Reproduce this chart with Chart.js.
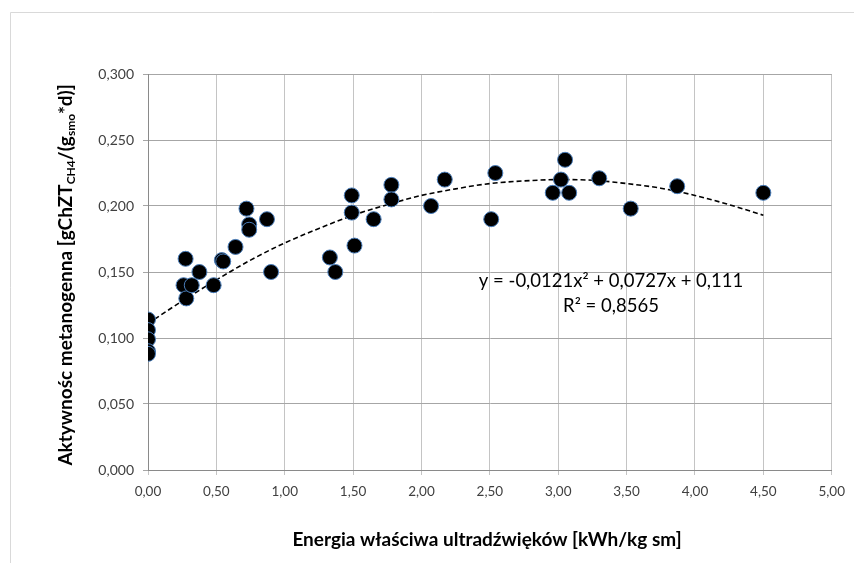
<!DOCTYPE html>
<html>
<head>
<meta charset="utf-8">
<script src="https://cdn.jsdelivr.net/npm/chart.js@4/dist/chart.umd.min.js"></script>
<style>
  html, body { margin: 0; padding: 0; background: #fff; }
  #wrap { width: 854px; height: 563px; position: relative; }
</style>
</head>
<body>
<div id="wrap"><canvas id="chart"></canvas></div>
<script>
// measured points: specific energy [kWh/kg sm] vs methanogenic activity
const energyX = [
  0, 0, 0, 0, 0,
  0.26, 0.28, 0.275, 0.32, 0.376, 0.48, 0.54, 0.55, 0.64, 0.72, 0.74, 0.74, 0.87, 0.90,
  1.33, 1.37, 1.49, 1.49, 1.51, 1.65, 1.78, 1.78, 2.07, 2.17,
  2.51, 2.54, 2.96, 3.02, 3.05, 3.08, 3.30, 3.53, 3.87, 4.50
];
const activityY = [
  0.114, 0.106, 0.099, 0.090, 0.088,
  0.140, 0.130, 0.160, 0.140, 0.150, 0.140, 0.159, 0.158, 0.169, 0.198, 0.186, 0.182, 0.190, 0.150,
  0.161, 0.150, 0.208, 0.195, 0.170, 0.190, 0.216, 0.205, 0.200, 0.220,
  0.190, 0.225, 0.210, 0.220, 0.235, 0.210, 0.221, 0.198, 0.215, 0.210
];

// polynomial trendline
const trendX = [0, 0.25, 0.5, 0.75, 1, 1.25, 1.5, 1.75, 2, 2.25, 2.5, 2.75, 3, 3.25, 3.5, 3.75, 4, 4.25, 4.5];
const trendY = [0.111, 0.128, 0.144, 0.159, 0.172, 0.183, 0.193, 0.201, 0.208, 0.213, 0.217, 0.219, 0.220, 0.2195, 0.217, 0.2135, 0.208, 0.201, 0.193];

const xTicks = [0, 0.5, 1, 1.5, 2, 2.5, 3, 3.5, 4, 4.5, 5];
const yTicks = [0, 0.05, 0.1, 0.15, 0.2, 0.25, 0.3];

const eqLines = ["y = -0,0121x\u00b2 + 0,0727x + 0,111", "R\u00b2 = 0,8565"];
const xTitle = "Energia właściwa ultradźwięków [kWh/kg sm]";
// y title pieces, sub = subscript
const yTitleParts = [
  { t: "Aktywnośc metanogenna [gChZT", sub: false },
  { t: "CH4", sub: true },
  { t: "/(g", sub: false },
  { t: "smo", sub: true },
  { t: "*d)]", sub: false }
];

const FONT = "Lato, 'Open Sans', sans-serif";

const decor = {
  id: "decor",
  beforeDraw(chart) {
    const ctx = chart.ctx;
    ctx.save();
    ctx.fillStyle = "#fff";
    ctx.fillRect(0, 0, chart.width, chart.height);
    ctx.strokeStyle = "#d9d9d9";
    ctx.lineWidth = 1;
    ctx.beginPath();
    ctx.moveTo(10.5, chart.height);
    ctx.lineTo(10.5, 12.5);
    ctx.lineTo(chart.width, 12.5);
    ctx.stroke();
    ctx.restore();
  },
  afterDraw(chart) {
    const ctx = chart.ctx;
    ctx.save();
    ctx.fillStyle = "#000";

    // x axis title
    ctx.font = "bold 19px " + FONT;
    ctx.textAlign = "center";
    ctx.textBaseline = "middle";
    ctx.fillText(xTitle, 487, 540);

    // y axis title with subscripts
    const mainFont = "bold 19px " + FONT;
    const subFont = "bold 12px " + FONT;
    let total = 0;
    yTitleParts.forEach(p => {
      ctx.font = p.sub ? subFont : mainFont;
      p.w = ctx.measureText(p.t).width;
      total += p.w;
    });
    ctx.translate(65, 275);
    ctx.rotate(-Math.PI / 2);
    ctx.textAlign = "left";
    ctx.textBaseline = "alphabetic";
    let cx = -total / 2;
    yTitleParts.forEach(p => {
      ctx.font = p.sub ? subFont : mainFont;
      ctx.fillText(p.t, cx, p.sub ? 10 : 7);
      cx += p.w;
    });
    ctx.setTransform(1, 0, 0, 1, 0, 0);

    // trendline equation
    ctx.font = "18.5px " + FONT;
    ctx.textAlign = "center";
    ctx.textBaseline = "alphabetic";
    ctx.fillText(eqLines[0], 611, 287);
    ctx.fillText(eqLines[1], 611, 312);
    ctx.restore();
  }
};

const fmt = (v, d) => v.toFixed(d).replace(".", ",");

new Chart(document.getElementById("chart"), {
  type: "scatter",
  data: {
    datasets: [
      {
        label: "pomiary",
        data: energyX.map((x, i) => ({ x: x, y: activityY[i] })),
        backgroundColor: "#000",
        borderColor: "#4a7ebb",
        borderWidth: 1,
        pointRadius: 7.5,
        pointHoverRadius: 7.5,
        order: 0
      },
      {
        label: "trend",
        type: "line",
        data: trendX.map((x, i) => ({ x: x, y: trendY[i] })),
        borderColor: "#000",
        borderWidth: 1.6,
        borderDash: [5, 3],
        pointRadius: 0,
        fill: false,
        tension: 0.4,
        cubicInterpolationMode: "monotone",
        order: 1
      }
    ]
  },
  options: {
    responsive: true,
    maintainAspectRatio: false,
    animation: false,
    layout: { padding: { top: 74, right: 14, left: 0, bottom: 0 } },
    plugins: {
      legend: { display: false },
      tooltip: { enabled: false }
    },
    scales: {
      x: {
        type: "linear",
        min: 0,
        max: 5,
        afterBuildTicks: (s) => { s.ticks = xTicks.map(v => ({ value: v })); },
        afterFit: (s) => { s.height = 93; },
        grid: { color: "#c4c4c4", tickLength: 5, drawTicks: true },
        border: { color: "#8a8a8a" },
        ticks: {
          color: "#404040",
          font: { family: FONT, size: 13.5 },
          padding: 9,
          maxRotation: 0,
          callback: (v) => fmt(v, 2)
        }
      },
      y: {
        type: "linear",
        min: 0,
        max: 0.3,
        afterBuildTicks: (s) => { s.ticks = yTicks.map(v => ({ value: v })); },
        afterFit: (s) => { s.width = 148; },
        grid: { color: "#a6a6a6", tickLength: 5, drawTicks: true },
        border: { color: "#8a8a8a" },
        ticks: {
          color: "#404040",
          font: { family: FONT, size: 14 },
          padding: 9,
          callback: (v) => fmt(v, 3)
        }
      }
    }
  },
  plugins: [decor]
});
</script>
</body>
</html>
